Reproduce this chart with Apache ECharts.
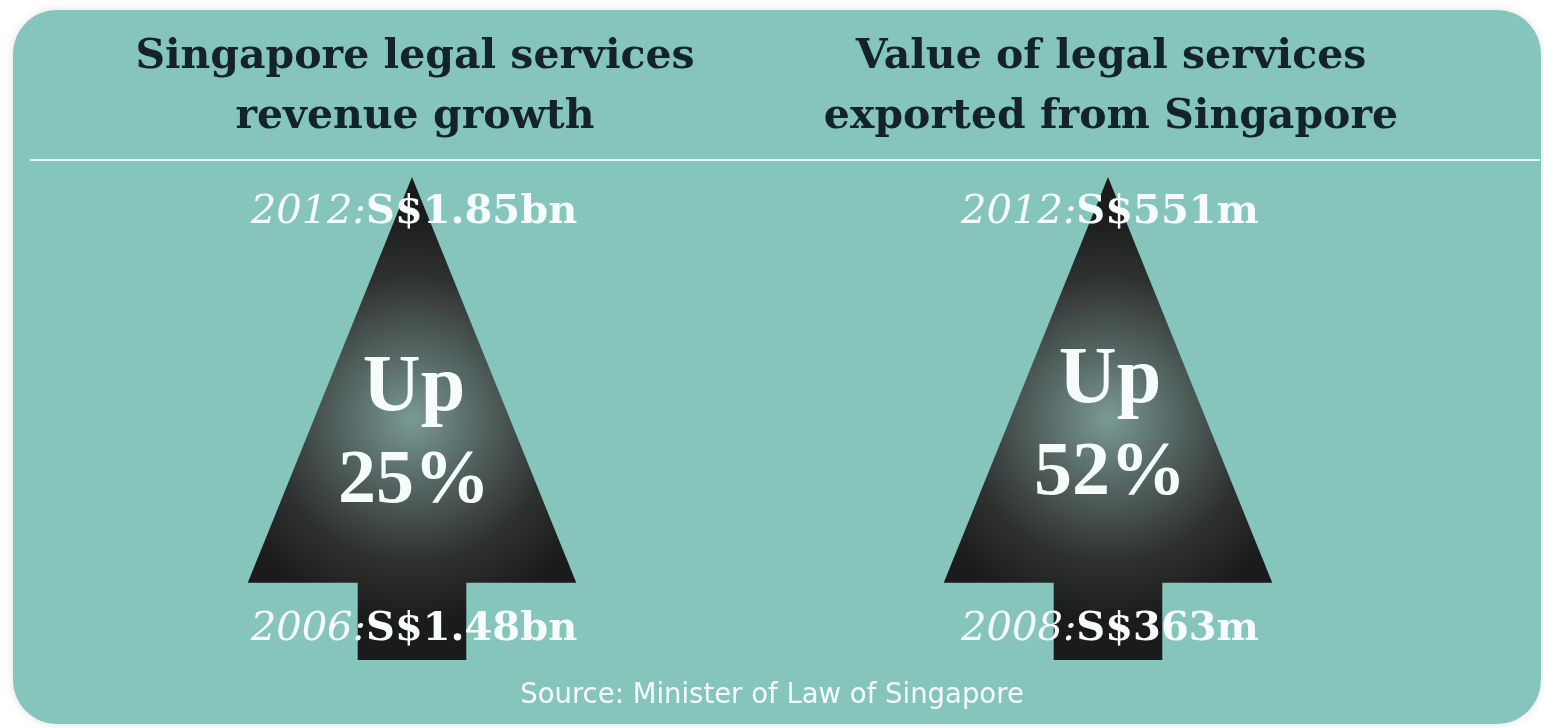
<!DOCTYPE html>
<html>
<head>
<meta charset="utf-8">
<title>Singapore legal services</title>
<script src="https://cdn.jsdelivr.net/npm/echarts@6/dist/echarts.min.js"></script>
<style>
  html, body { margin: 0; padding: 0; background: #ffffff; }
  #chart { width: 1544px; height: 728px; }
</style>
</head>
<body>
<div id="chart"></div>
<script>
// Panel headings, one per arrow
const headings = ['Singapore legal services\nrevenue growth', 'Value of legal services\nexported from Singapore'];
// Start and end of each comparison
const startYears = ['2006', '2008'];
const endYears = ['2012', '2012'];
const startValues = [1.48, 363];
const endValues = [1.85, 551];
const units = ['bn', 'm'];
const growthPct = [25, 52];
const sourceNote = 'Source: Minister of Law of Singapore';

const fmt = (v, u) => 'S$' + v + u;

const chart = echarts.init(document.getElementById('chart'));

const serif = '"Liberation Serif", "DejaVu Serif", serif';
const wideSerif = '"DejaVu Serif", "Liberation Serif", serif';
const white = '#f6fcfb';

const labelRich = {
  y: { font: 'italic 40px ' + wideSerif, fill: white },
  v: { font: 'bold 40px ' + wideSerif, fill: white }
};

chart.setOption({
  backgroundColor: '#ffffff',
  animation: false,
  graphic: [
    {
      type: 'rect', z: -10,
      shape: { x: 13, y: 10, width: 1528, height: 714, r: 44 },
      style: { fill: '#85c5bb', shadowBlur: 8, shadowColor: 'rgba(0,0,0,0.12)' }
    },
    {
      type: 'line', z: -5,
      shape: { x1: 30, y1: 160, x2: 1540, y2: 160 },
      style: { stroke: '#e4f6f2', lineWidth: 2 }
    },
    {
      type: 'text',
      left: 'center', top: 682,
      style: {
        text: sourceNote, fill: white,
        font: '27.5px "DejaVu Sans", "Liberation Sans", sans-serif'
      }
    }
  ],
  title: headings.map((h, i) => ({
    text: h,
    left: i === 0 ? 410 : 1106,
    top: 22,
    textAlign: 'center',
    textStyle: {
      fontFamily: wideSerif, fontWeight: 'bold', fontSize: 41,
      lineHeight: 60, color: '#14232a'
    }
  })),
  grid: { left: 64, right: 88, top: 177, bottom: 68 },
  xAxis: { type: 'category', data: headings, show: false },
  yAxis: { type: 'value', min: 0, max: 1, show: false },
  series: [{
    type: 'custom',
    data: growthPct.map((g, i) => [i, g]),
    renderItem: function (params, api) {
      const i = api.value(0);
      const top = api.coord([i, 1]);
      const bottom = api.coord([i, 0]);
      const band = api.size([1, 0])[0];
      const cx = top[0];
      const h = bottom[1] - top[1];
      const baseY = bottom[1] - h * 0.16;
      const half = band * 0.236;
      const stem = band * 0.078;
      const glow = new echarts.graphic.RadialGradient(0.5, 0.5, 0.62, [
        { offset: 0, color: '#7a9a95' },
        { offset: 0.3, color: '#586a67' },
        { offset: 0.7, color: '#2f3131' },
        { offset: 1, color: '#1b1b1b' }
      ]);
      const dy = i === 0 ? 0 : -8;
      return {
        type: 'group',
        children: [
          {
            type: 'polygon',
            shape: {
              points: [
                [cx, top[1]], [cx + half, baseY], [cx + stem, baseY],
                [cx + stem, bottom[1]], [cx - stem, bottom[1]],
                [cx - stem, baseY], [cx - half, baseY]
              ]
            },
            style: { fill: glow }
          },
          {
            type: 'text',
            x: cx + 2, y: top[1] + 36,
            style: {
              text: '{y|' + endYears[i] + ':}{v|' + fmt(endValues[i], units[i]) + '}',
              align: 'center', verticalAlign: 'middle', rich: labelRich
            }
          },
          {
            type: 'text',
            x: cx + 2, y: bottom[1] - 30,
            style: {
              text: '{y|' + startYears[i] + ':}{v|' + fmt(startValues[i], units[i]) + '}',
              align: 'center', verticalAlign: 'middle', rich: labelRich
            }
          },
          {
            type: 'text',
            x: cx + 2, y: top[1] + 212 + dy,
            style: {
              text: 'Up', align: 'center', verticalAlign: 'middle',
              font: 'bold 80px ' + serif, fill: white
            }
          },
          {
            type: 'text',
            x: cx + 2, y: top[1] + 305 + dy,
            style: {
              text: api.value(1) + '%', align: 'center', verticalAlign: 'middle',
              font: 'bold 76px ' + serif, fill: white
            }
          }
        ]
      };
    }
  }]
});
</script>
</body>
</html>
